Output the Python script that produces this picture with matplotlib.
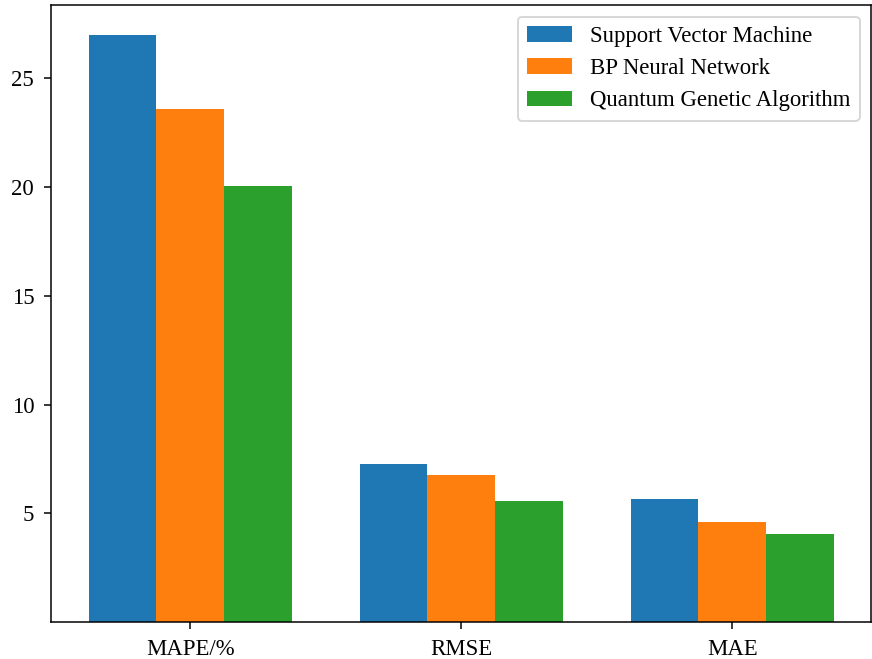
import matplotlib
matplotlib.use("Agg")
import matplotlib.pyplot as plt
import numpy as np

plt.rcParams["font.family"] = ["Liberation Serif", "DejaVu Serif"]
plt.rcParams["font.size"] = 12

metrics = ["MAPE/%", "RMSE", "MAE"]
svm = [27.0, 7.25, 5.64]
bpnn = [23.6, 6.75, 4.59]
qga = [20.05, 5.55, 4.04]
series_names = ["Support Vector Machine", "BP Neural Network", "Quantum Genetic Algorithm"]

x = np.arange(len(metrics))
width = 0.25

DPI = 136.25
fig, ax = plt.subplots(figsize=(872 / DPI, 659 / DPI), dpi=DPI)
fig.subplots_adjust(left=0.059, right=0.999, top=0.992, bottom=0.056)

ax.bar(x - width, svm, width, color="#1f77b4", label=series_names[0])
ax.bar(x, bpnn, width, color="#ff7f0e", label=series_names[1])
ax.bar(x + width, qga, width, color="#2ca02c", label=series_names[2])

ax.set_xticks(x)
ax.set_xticklabels(metrics)
ax.set_yticks([5, 10, 15, 20, 25])
ax.tick_params(length=3.8, pad=5.3)
ax.legend(loc="upper right")

fig.savefig("out.png", dpi=DPI)
